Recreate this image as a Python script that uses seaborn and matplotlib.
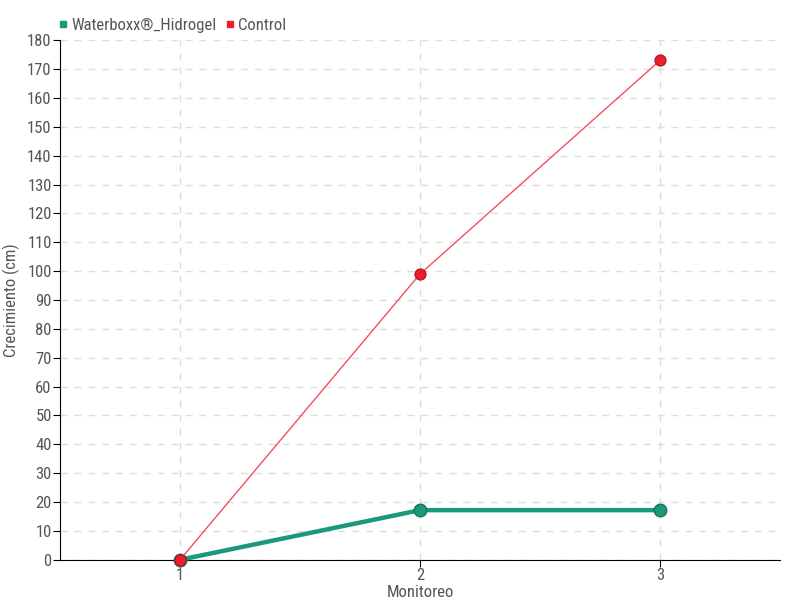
import pandas as pd
import matplotlib.pyplot as plt
import seaborn as sns
from matplotlib.lines import Line2D

monitoreo = [1, 2, 3]
waterboxx = [0, 17.2, 17.2]
control = [0, 99, 173]

sns.set_style('white')
plt.rcParams['font.family'] = ['Roboto Condensed', 'Roboto', 'DejaVu Sans']

df = pd.DataFrame({
    'Monitoreo': monitoreo * 2,
    'Crecimiento': waterboxx + control,
    'Serie': ['Waterboxx®_Hidrogel'] * 3 + ['Control'] * 3,
})

fig, ax = plt.subplots(figsize=(8, 6), dpi=100)
fig.subplots_adjust(left=0.075, right=0.975, top=0.933, bottom=0.067)

green = '#1b9a7b'
red = '#ed1c2e'

sns.lineplot(data=df[df.Serie == 'Waterboxx®_Hidrogel'], x='Monitoreo', y='Crecimiento',
             color=green, lw=3.2, marker='o', markersize=9, markeredgecolor='#17735c',
             markeredgewidth=1, ax=ax, zorder=3, clip_on=False)
sns.lineplot(data=df[df.Serie == 'Control'], x='Monitoreo', y='Crecimiento',
             color='#f2505c', lw=1, marker='o', markersize=8, markerfacecolor=red,
             markeredgecolor='#b5121f', markeredgewidth=0.8, ax=ax, zorder=4,
             clip_on=False)

ax.set_xlim(0.5, 3.5)
ax.set_ylim(0, 180)
ax.set_xticks(monitoreo)
ax.set_yticks(range(0, 181, 10))
ax.grid(True, color='#dddddd', linestyle=(0, (5, 5)), lw=1)
ax.set_axisbelow(True)
for s in ['top', 'right']:
    ax.spines[s].set_visible(False)
ax.spines['left'].set_color('black')
ax.spines['bottom'].set_color('black')
ax.tick_params(axis='both', colors='black', labelcolor='#555555', labelsize=12,
               direction='out', length=5, left=True, bottom=True, pad=1)
ax.set_xlabel('Monitoreo', fontsize=12, color='#555555')
ax.set_ylabel('Crecimiento (cm)', fontsize=12, color='#555555')
ax.xaxis.set_label_coords(0.5, -0.048)
ax.yaxis.set_label_coords(-0.056, 0.5)

handles = [Line2D([], [], marker='s', ls='', color=green, markersize=5),
           Line2D([], [], marker='s', ls='', color=red, markersize=5)]
fig.legend(handles, ['Waterboxx®_Hidrogel', 'Control'], loc='upper left',
           bbox_to_anchor=(0.052, 0.995), ncol=2, frameon=False, fontsize=12,
           handletextpad=0.1, columnspacing=0.4, handlelength=0.8,
           labelcolor='#555555')

fig.savefig('out.png', dpi=100)
